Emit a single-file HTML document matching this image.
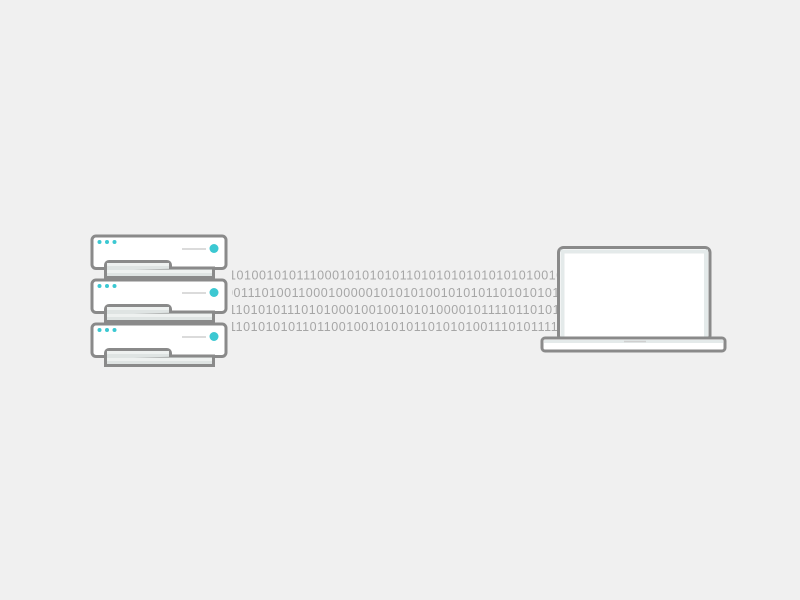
<!DOCTYPE html>
<html><head><meta charset="utf-8"><style>
html,body{margin:0;padding:0;background:#f0f0f0;width:800px;height:600px;overflow:hidden}
</style></head><body>
<svg width="800" height="600" xmlns="http://www.w3.org/2000/svg">
<rect width="800" height="600" fill="#f0f0f0"/>
<defs>
<g id="unit">
  <rect x="92" y="236" width="134" height="32.5" rx="4" fill="#fff" stroke="#8a8a8a" stroke-width="3"/>
  <rect x="105.5" y="268" width="108" height="9.5" fill="#dfe4e3" stroke="#8a8a8a" stroke-width="3"/>
  <rect x="107" y="270" width="105" height="3" fill="#eef1f0"/>
  <path d="M105.5,270 V265 a3.5 3.5 0 0 1 3.5,-3.5 H167 a3.5 3.5 0 0 1 3.5,3.5 V268 H213.5" fill="#dfe4e3" stroke="#8a8a8a" stroke-width="3"/>
  <rect x="107" y="263" width="62" height="3" fill="#eef1f0"/>
  <circle cx="99.5" cy="242" r="2" fill="#3cc8d2"/>
  <circle cx="107" cy="242" r="2" fill="#3cc8d2"/>
  <circle cx="114.5" cy="242" r="2" fill="#3cc8d2"/>
  <line x1="182" y1="249" x2="206" y2="249" stroke="#cfcfcf" stroke-width="1.5"/>
  <circle cx="214" cy="248.5" r="4.5" fill="#3cc8d2"/>
</g>
</defs>
<use href="#unit" transform="translate(0,88)"/>
<use href="#unit" transform="translate(0,44)"/>
<use href="#unit"/>
<g font-family="Liberation Sans, sans-serif" font-size="12.5" fill="#a6a6a6" letter-spacing="0.55">
<svg x="232" y="260" width="325" height="80">
<text x="-3" y="19.5">1010010101110001010101011010101010101010100101</text>
<text x="-6" y="37">0011101001100010000010101010010101011010101010</text>
<text x="-3" y="54">1101010111010100010010010101000010111101101010</text>
<text x="-3" y="71">1101010101101100100101010110101010011101011110</text>
</svg>
</g>
<rect x="558.5" y="247.5" width="151.5" height="93" rx="5" fill="#fff" stroke="#8a8a8a" stroke-width="3"/>
<rect x="562.5" y="251.5" width="143.5" height="89" fill="none" stroke="#e4eaea" stroke-width="4"/>
<rect x="542" y="338" width="183" height="13" rx="3" fill="#fff" stroke="#8a8a8a" stroke-width="3"/>
<rect x="544" y="340" width="179" height="3" fill="#e4eaea"/>
<line x1="624" y1="341.5" x2="646" y2="341.5" stroke="#cfcfcf" stroke-width="1.5"/>
</svg>
</body></html>
